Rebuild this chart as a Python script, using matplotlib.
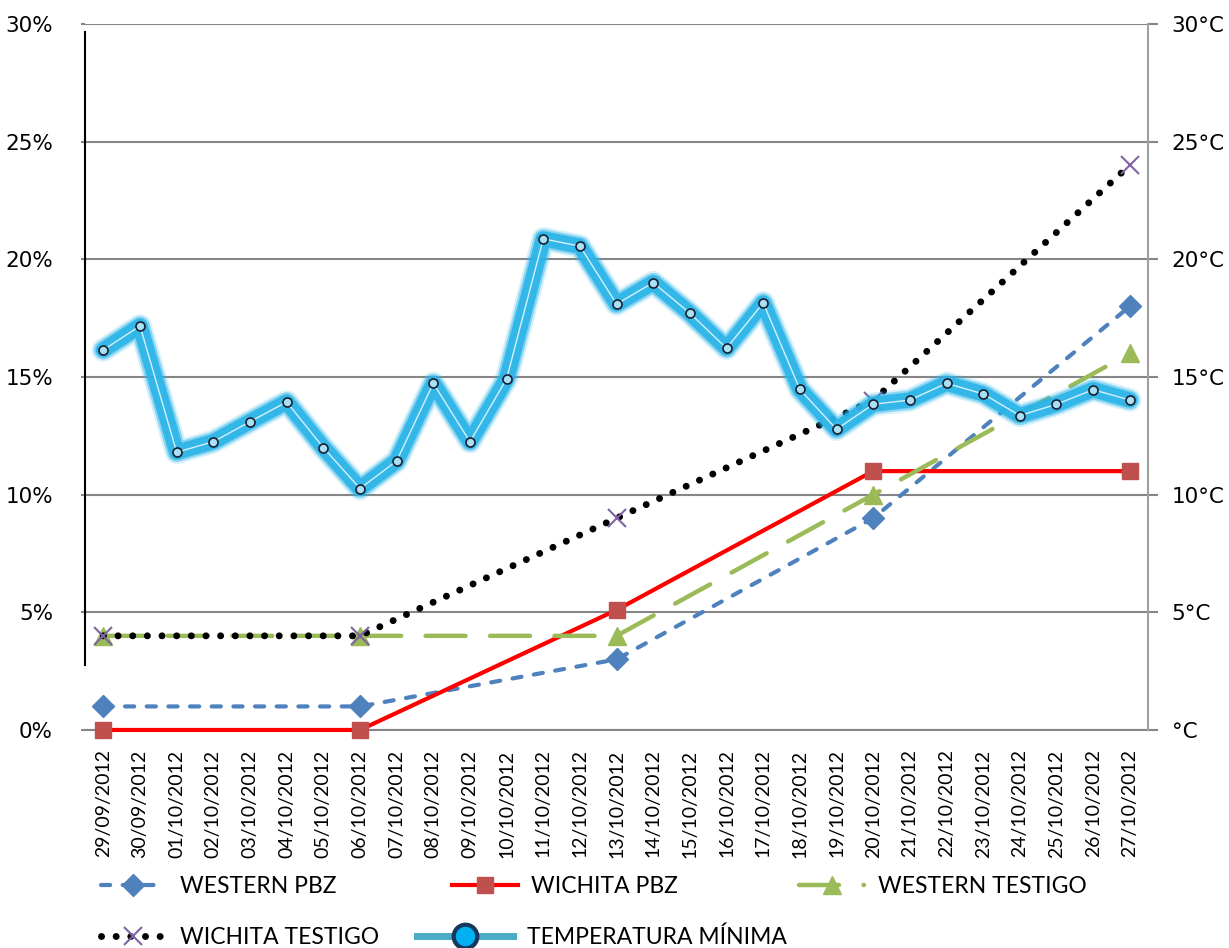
import numpy as np
import matplotlib
matplotlib.use('Agg')
import matplotlib.pyplot as plt
from matplotlib.lines import Line2D
from matplotlib.ticker import FuncFormatter, MultipleLocator

dates = ['29/09/2012', '30/09/2012', '01/10/2012', '02/10/2012', '03/10/2012',
         '04/10/2012', '05/10/2012', '06/10/2012', '07/10/2012', '08/10/2012',
         '09/10/2012', '10/10/2012', '11/10/2012', '12/10/2012', '13/10/2012',
         '14/10/2012', '15/10/2012', '16/10/2012', '17/10/2012', '18/10/2012',
         '19/10/2012', '20/10/2012', '21/10/2012', '22/10/2012', '23/10/2012',
         '24/10/2012', '25/10/2012', '26/10/2012', '27/10/2012']

# sampling days (index into dates)
sample_idx = [0, 7, 14, 21, 28]
western_pbz = [1, 1, 3, 9, 18]
wichita_pbz = [0, 0, 5.1, 11, 11]
western_testigo = [4, 4, 4, 10, 16]
wichita_testigo = [4, 4, 9, 14, 24]

temp_min = [16.15, 17.17, 11.8, 12.25, 13.1, 13.94, 12.0, 10.26, 11.43, 14.73,
            12.25, 14.92, 20.87, 20.56, 18.1, 19.01, 17.71, 16.22, 18.15, 14.47,
            12.78, 13.84, 14.02, 14.73, 14.28, 13.36, 13.84, 14.46, 14.02]

narrow = ['Lato', 'DejaVu Sans']
grid_col = '#868686'

fig = plt.figure(figsize=(12.29, 9.48), dpi=100)
ax = fig.add_axes([0.0692, 0.23, 0.865, 0.7447])
ax2 = ax.twinx()

x = np.arange(len(dates))

ax.plot(sample_idx, western_pbz, color='#4f81bd', lw=3, dashes=(2.2, 3.0),
        dash_capstyle='round', marker='D', ms=11, mfc='#4f81bd', mec='#4f81bd',
        zorder=3, clip_on=False)
ax.plot(sample_idx, wichita_pbz, color='#ff0000', lw=3, marker='s', ms=12,
        mfc='#c0504d', mec='#c0504d', zorder=3, clip_on=False)
ax.plot(sample_idx, western_testigo, color='#9bbb59', lw=3.2, dashes=(9, 5.5),
        dash_capstyle='round', marker='^', ms=13, mfc='#9bbb59', mec='#9bbb59',
        zorder=3, clip_on=False)
ax.plot(sample_idx, wichita_testigo, color='black', lw=5, dashes=(0.01, 2.1),
        dash_capstyle='round', zorder=3, clip_on=False)
ax.plot(sample_idx, wichita_testigo, ls='none', marker='x', ms=13, mew=1.5,
        color='#8064a2', zorder=4, clip_on=False)

# temperature with glow
for w, a in [(17, 0.18), (14, 0.45), (11, 0.9)]:
    ax2.plot(x, temp_min, color='#29b4e8', lw=w, alpha=a, solid_joinstyle='round',
             solid_capstyle='round', zorder=2)
ax2.plot(x, temp_min, color='#d5f1fc', lw=1, marker='o', ms=6.5, mfc='#a9e0f5',
         mec='#1a2030', mew=1.2, zorder=3)

ax.set_xlim(-0.5, len(dates) - 0.5)
ax.set_ylim(0, 30)
ax2.set_ylim(0, 30)
ax.yaxis.set_major_locator(MultipleLocator(5))
ax2.yaxis.set_major_locator(MultipleLocator(5))
ax.yaxis.set_major_formatter(FuncFormatter(lambda v, p: f'{int(v)}%'))
ax2.yaxis.set_major_formatter(FuncFormatter(lambda v, p: f'{int(v)}°C' if v else '°C'))

ax.grid(axis='y', color=grid_col, lw=1.5)
ax.set_axisbelow(True)
ax.set_xticks(x)
ax.set_xticklabels(dates, rotation=90, fontsize=14, family=narrow)
ax.tick_params(axis='x', length=0, pad=14)
ax.tick_params(axis='y', length=3, width=1.5, color=grid_col, labelsize=15.5, pad=20)
ax2.tick_params(axis='y', length=7, width=1.5, color=grid_col, labelsize=15.5, pad=10)

ax.spines['top'].set_visible(False)
ax2.spines['top'].set_visible(False)
ax2.spines['left'].set_visible(False)
ax2.spines['bottom'].set_visible(False)
ax.spines['right'].set_visible(False)
ax2.spines['right'].set_color('#a0a0a0')
ax2.spines['right'].set_linewidth(1.5)
ax.spines['bottom'].set_color(grid_col)
ax.spines['bottom'].set_linewidth(1.5)
ax.spines['left'].set_color('black')
ax.spines['left'].set_linewidth(1.5)
ax.spines['left'].set_bounds(2.76, 29.66)

# legend entries placed like the original grid
h_wpbz = Line2D([], [], color='#4f81bd', lw=3, dashes=(2.2, 3.0), dash_capstyle='round',
                marker='D', ms=11, mfc='#4f81bd', mec='#4f81bd')
h_kpbz = Line2D([], [], color='#ff0000', lw=3, marker='s', ms=12, mfc='#c0504d', mec='#c0504d')
h_wtes = Line2D([], [], color='#9bbb59', lw=3.2, dashes=(9, 5.5), dash_capstyle='round',
                marker='^', ms=13, mfc='#9bbb59', mec='#9bbb59')
h_ktes = Line2D([], [], color='black', lw=5, dashes=(0.01, 2.1), dash_capstyle='round',
                marker='x', ms=13, mew=1.5, mec='#8064a2')
h_temp = Line2D([], [], color='#4bacc6', lw=5, marker='o', ms=17, mfc='#00b0f0',
                mec='#17375e', mew=3)

entries = [
    (h_wpbz, 'WESTERN PBZ', 0.082, 0.065, 2.85),
    (h_kpbz, 'WICHITA PBZ', 0.368, 0.065, 2.85),
    (h_wtes, 'WESTERN TESTIGO', 0.650, 0.065, 2.85),
    (h_ktes, 'WICHITA TESTIGO', 0.082, 0.011, 2.85),
    (h_temp, 'TEMPERATURA MÍNIMA', 0.339, 0.011, 4.2),
]
for h, lab, lx, ly, hl in entries:
    fig.legend([h], [lab], loc='center left', bbox_to_anchor=(lx, ly),
               frameon=False, borderpad=0, borderaxespad=0, handlelength=hl,
               handletextpad=0.6, prop={'family': narrow, 'size': 16.5})

fig.savefig('out.png', dpi=100)
